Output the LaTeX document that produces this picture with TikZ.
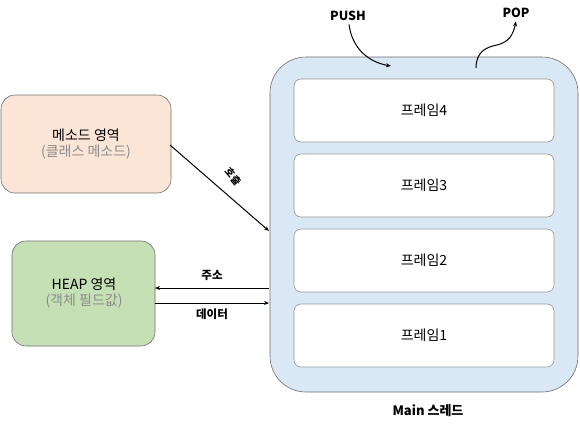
\documentclass[tikz,border=0pt]{standalone}
\usepackage{fontspec}
\setmainfont{Noto Sans CJK KR}
\usetikzlibrary{arrows.meta}
\definecolor{peach}{HTML}{FBE5D6}
\definecolor{leaf}{HTML}{C5E0B4}
\definecolor{sky}{HTML}{DAE8F5}
\definecolor{edge}{HTML}{6E6E6E}
\definecolor{soft}{HTML}{8C8C8C}
\begin{document}
\begin{tikzpicture}[x=1pt,y=-1pt,
  area/.style={draw=edge,line width=0.6pt,rounded corners=14pt},
  framebox/.style={draw=soft!90,line width=0.6pt,fill=white,rounded corners=7pt},
  big/.style={font=\fontsize{14}{17}\selectfont},
  small/.style={font=\fontsize{11.5}{13}\selectfont\bfseries},
  arr/.style={line width=1pt,-{Stealth[length=5pt,width=4pt]}}]
\useasboundingbox (0,0) rectangle (580,432);
% main thread
\draw[area,fill=sky,rounded corners=36pt] (270,57) rectangle (578,392);
\node[small,font=\fontsize{13}{15}\selectfont\bfseries] (mtlabel) at (428,411) {Main 스레드};
% frames
\foreach \n/\y in {4/79,3/154,2/229,1/304}{
  \draw[framebox] (294,\y) rectangle (554,\y+63);
  \node[big] (f\n) at (424,\y+31.5) {프레임\n};
}
% method area
\draw[area,fill=peach] (1,95) rectangle (171,193);
\node[big,align=center] (method) at (86,144) {메소드 영역\\[-1pt]\textcolor{soft}{(클래스 메소드)}};
% heap area
\draw[area,fill=leaf] (12,241) rectangle (155,346);
\node[big,align=center] (heap) at (84,293) {HEAP 영역\\[-1pt]\textcolor{soft}{(객체 필드값)}};
% connectors
\coordinate (mout) at (170,145);
\coordinate (tin) at (269,231);
\draw[arr] (mout) -- node[pos=0.6,xshift=4pt,yshift=20pt,rotate=-50,font=\fontsize{10}{12}\selectfont\bfseries] (call) {호출} (tin);
\coordinate (ta) at (269,288);
\coordinate (ha) at (155,288);
\draw[arr] (ta) -- node[small,above=4pt] (addr) {주소} (ha);
\coordinate (hb) at (155,303);
\coordinate (tb) at (269,303);
\draw[arr] (hb) -- node[small,below=2pt] (data) {데이터} (tb);
% push / pop
\node[small,font=\fontsize{12.5}{14}\selectfont\bfseries] (push) at (348,16) {PUSH};
\node[small,font=\fontsize{12.5}{14}\selectfont\bfseries] (pop) at (516,13) {POP};
\coordinate (pushend) at (391,66);
\coordinate (popstart) at (476,68);
\draw[arr] (push.south) ++(1,0) .. controls (352,48) and (368,62) .. (pushend);
\draw[arr] (popstart) .. controls (476,52) and (486,47) .. (497,45) .. controls (509,42) and (513,35) .. (pop.south);
\end{tikzpicture}
\end{document}
